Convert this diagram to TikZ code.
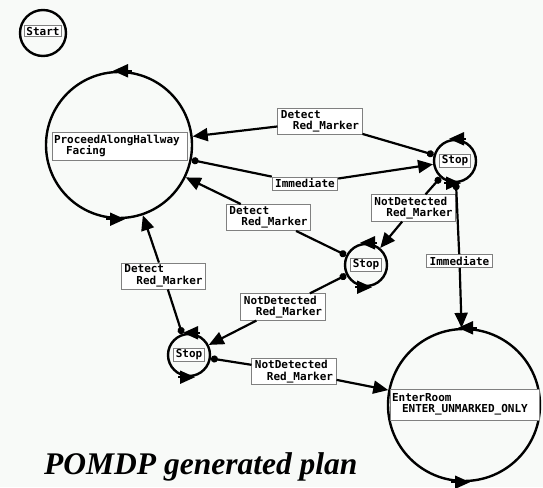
\documentclass[tikz,border=0pt]{standalone}
\usepackage{fontspec}
\setmainfont{Liberation Serif}
\newfontfamily\pixfont{DejaVu Sans Mono}
\usetikzlibrary{arrows.meta}
\definecolor{bg}{HTML}{F8FAF8}
\definecolor{boxline}{HTML}{808080}
\tikzset{
  stcirc/.style={circle, draw=black, line width=2.4pt, minimum size=#1, inner sep=0pt},
  txtbox/.style={draw=boxline, line width=0.8pt, fill=white,
    font=\pixfont\bfseries\fontsize{11}{11.5}\selectfont,
    inner xsep=3pt, inner ysep=2pt, align=left},
  bigbox/.style={txtbox, inner xsep=2pt, text width=#1},
  cline/.style={line width=2.2pt, draw=black},
  tailed/.style={cline, {Circle[length=7pt]}-},
  headed/.style={cline, -{Triangle[length=15pt,width=13pt]}},
  looptip/.style={line width=2pt, -{Triangle[length=15pt,width=13pt]}},
  title/.style={font=\fontsize{31.5}{31.5}\selectfont\bfseries\itshape, inner sep=0pt, anchor=base west}
}
\newcommand{\ind}{\hspace*{12pt}}
\begin{document}
\begin{tikzpicture}[x=1pt,y=-1pt]
\fill[bg] (0,0) rectangle (543,487);
\useasboundingbox (0,0) rectangle (543,487);

% states
\node[stcirc=46pt] (start) at (43,33) {};
\node[txtbox, inner xsep=2pt, inner ysep=1.5pt] (startt) at (43,31) {Start};

\node[stcirc=146pt] (P) at (119,145) {};
\node[bigbox=131pt, minimum height=28pt] (Pt) at (119.5,146) {ProceedAlongHallway\\\ind Facing};

\node[stcirc=152pt] (E) at (464,405) {};
\node[bigbox=145pt, minimum height=31pt] (Et) at (464.5,404.5) {EnterRoom\\\hspace*{10pt}ENTER\_UNMARKED\_ONLY};

\node[stcirc=42pt] (S1) at (455,161) {};
\node[txtbox, inner xsep=2pt, inner ysep=1.5pt] (S1t) at (S1) {Stop};
\node[stcirc=42pt] (S2) at (366,265) {};
\node[txtbox, inner xsep=2pt, inner ysep=1.5pt] (S2t) at (S2) {Stop};
\node[stcirc=42pt] (S3) at (189,355) {};
\node[txtbox, inner xsep=2pt, inner ysep=1.5pt] (S3t) at (S3) {Stop};

% self-loop marks
\foreach \n/\d in {P/13, E/13, S1/11, S2/11, S3/11} {
  \draw[looptip] ([xshift=\d pt]\n.north) -- ([xshift=-6pt]\n.north);
  \draw[looptip] ([xshift=-\d pt]\n.south) -- ([xshift=6pt]\n.south);
}

% labels
\node[txtbox] (L1) at (320,121.5) {Detect\\\ind Red\_Marker};
\node[txtbox] (L2) at (305,183.5) {Immediate};
\node[txtbox] (L3) at (268.5,217.5) {Detect\\\ind Red\_Marker};
\node[txtbox] (L4) at (413.5,208) {NotDetected\\\ind Red\_Marker};
\node[txtbox] (L5) at (283,307) {NotDetected\\\ind Red\_Marker};
\node[txtbox] (L6) at (294,371.5) {NotDetected\\\ind Red\_Marker};
\node[txtbox] (L7) at (163.5,276) {Detect\\\ind Red\_Marker};
\node[txtbox] (L8) at (459.5,261) {Immediate};

% connectors
\draw[tailed] (S1) -- (L1);
\draw[headed] (L1) -- (P);

\draw[tailed] (P) -- (L2);
\draw[headed] (L2) -- (S1);

\draw[tailed] (S2) -- (L3);
\draw[headed] (L3) -- (P);

\draw[tailed] (S1) -- (L4);
\draw[headed] (L4) -- (S2);

\draw[tailed] (S2) -- (L5);
\draw[headed] (L5) -- (S3);

\draw[tailed] (S3) -- (L6);
\draw[headed] (L6) -- (E);

\draw[tailed] (S3) -- (L7);
\draw[headed] (L7) -- (P);

\draw[tailed] (S1) -- (L8);
\draw[headed] (L8) -- (E);

% title
\node[title] (ttl) at (44,474) {POMDP generated plan};
\end{tikzpicture}
\end{document}
